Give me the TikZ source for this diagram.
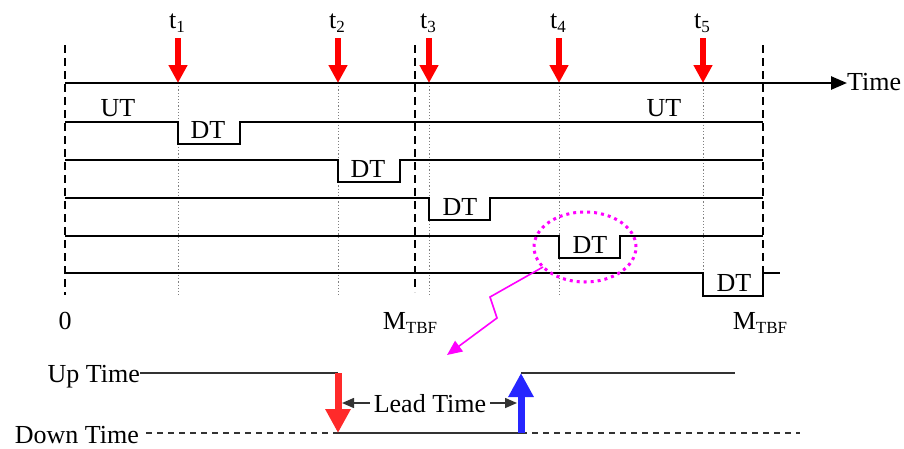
\documentclass[tikz,border=0pt]{standalone}
\usepackage{fontspec}
\setmainfont{Liberation Serif}
\usetikzlibrary{arrows.meta}
\newcommand\sbx[1]{\raisebox{-0.35ex}{\fontsize{17}{17}\selectfont #1}}
\definecolor{mag}{HTML}{FF00FF}
\definecolor{dred}{HTML}{FF2A2A}
\definecolor{dblue}{HTML}{2626FF}
\definecolor{dk}{HTML}{333333}
\begin{document}
\begin{tikzpicture}[x=1pt,y=-1pt,
  lbl/.style={font=\fontsize{26}{30}\selectfont, inner sep=0pt, anchor=base},
  sig/.style={line width=1.8pt, black, line join=miter},
  vdash/.style={line width=1.6pt, dash pattern=on 8pt off 5pt},
  vdot/.style={gray, line width=0.9pt, dash pattern=on 1.2pt off 2pt},
  redarr/.style={red, line width=6pt, -{Triangle[width=18pt,length=18pt]}},
  bigarr/.style={line width=7pt, -{Triangle[width=24pt,length=24pt]}},
  smallarr/.style={dk, line width=1.5pt, -{Triangle[width=10pt,length=12pt]}},
]
\useasboundingbox (0,0) rectangle (904,448);

% dotted guides
\foreach \x in {178,338,429,559,703} \draw[vdot] (\x,83) -- (\x,297);

% vertical dashed lines
\draw[vdash] (65,45) -- (65,295);
\draw[vdash] (415,45) -- (415,292);
\draw[vdash] (763,45) -- (763,296);

% time axis
\draw[line width=2.6pt, -{Triangle[width=13pt,length=16pt]}] (65,83) -- (847,83);
\node[lbl, anchor=base west] (time) at (847,90) {Time};

% failure arrows
\foreach \x/\i in {178/1,338/2,429/3,559/4,703/5} {
  \draw[redarr] (\x,38) -- (\x,83);
  \node[lbl] (t\i) at (\x-1,28) {t\sbx{\i}};
}

% signal rows
\draw[sig] (65,122) -- (178,122) -- (178,144) -- (240,144) -- (240,122) -- (763,122);
\draw[sig] (65,160) -- (338,160) -- (338,182) -- (400,182) -- (400,160) -- (763,160);
\draw[sig] (65,198) -- (429,198) -- (429,220) -- (490,220) -- (490,198) -- (763,198);
\draw[sig] (65,236) -- (559,236) -- (559,258) -- (620,258) -- (620,236) -- (763,236);
\draw[sig] (65,273) -- (703,273) -- (703,296) -- (763,296) -- (763,273) -- (780,273);

\node[lbl] (ut1) at (118,116) {UT};
\node[lbl] (ut2) at (664,116) {UT};
\node[lbl] (dt1) at (208,138) {DT};
\node[lbl] (dt2) at (368,177) {DT};
\node[lbl] (dt3) at (460,215) {DT};
\node[lbl] (dt4) at (590,253) {DT};
\node[lbl] (dt5) at (734,291) {DT};

\node[lbl] (zero) at (65,329) {0};
\node[lbl] (mtbf1) at (410,329) {M\sbx{TBF}};
\node[lbl] (mtbf2) at (760,329) {M\sbx{TBF}};

% magenta highlight
\draw[mag, line width=3pt, dash pattern=on 3pt off 4pt] (585,247) ellipse [x radius=51pt, y radius=35pt];
\coordinate (zs) at (543,267);
\coordinate (ze) at (447,355);
\draw[mag, line width=1.6pt, line join=miter, -{Triangle[width=13pt,length=15pt]}] (zs) -- (490,297) -- (497,318) -- (ze);

% bottom detail
\node[lbl, anchor=base east] (up) at (140,382) {Up Time};
\node[lbl, anchor=base east] (down) at (139,443) {Down Time};
\coordinate (fdn) at (338,433);
\coordinate (fup) at (338,373);
\coordinate (rdn) at (521,433);
\coordinate (rup) at (521,373);
\draw[dk, line width=1.4pt] (up.east |- fup) -- (fup);
\draw[dk, line width=1.4pt] (rup) -- (735,373);
\draw[dk, line width=1.4pt, dash pattern=on 6pt off 5pt] (146,433) -- (fdn);
\draw[dk, line width=1.8pt] (fdn) -- (rdn);
\draw[dk, line width=1.4pt, dash pattern=on 6pt off 5pt] (rdn) -- (800,433);
\draw[bigarr, dred] (fup) -- (fdn);
\draw[bigarr, dblue] (rdn) -- (rup);
\node[lbl, anchor=base, inner xsep=4pt] (lead) at (430,412) {Lead Time};
\draw[smallarr] (lead.west |- 0,403) -- (342,403);
\draw[smallarr] (lead.east |- 0,403) -- (517,403);
\end{tikzpicture}
\end{document}
